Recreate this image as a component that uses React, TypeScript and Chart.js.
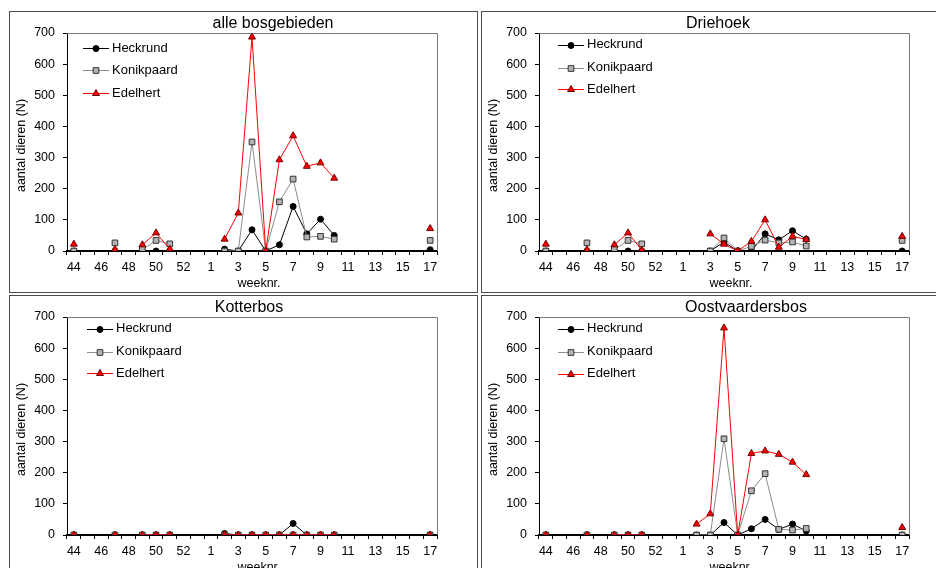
import React, { useEffect, useRef } from 'react';
import { Chart, registerables } from 'chart.js';
import { drawPoint } from 'chart.js/helpers';

Chart.register(...registerables);

const N = null;

// week numbers 44..53 (2004) and 1..17 (2005)
const WEEKS = ['44','45','46','47','48','49','50','51','52','53','1','2','3','4','5','6','7','8','9','10','11','12','13','14','15','16','17'];

const SERIES_NAMES = ['Heckrund', 'Konikpaard', 'Edelhert'];
const Y_MIN = 0;
const Y_MAX = 700;
const Y_STEP = 100;

// alle bosgebieden
const ALLE_HECK  = [0,N,N,0,N,0,0,0,N,N, N,6,0,68,0,20,143,55,102,50, N,N,N,N,N,N,4];
const ALLE_KONIK = [0,N,N,26,N,5,34,23,N,N, N,0,0,350,0,158,231,45,47,38, N,N,N,N,N,N,34];
const ALLE_EDEL  = [22,N,N,5,N,20,58,6,N,N, N,38,122,687,0,293,370,272,283,234, N,N,N,N,N,N,72];

// Driehoek
const DRIE_HECK  = [0,N,N,0,N,0,0,0,N,N, N,N,0,29,0,0,55,36,65,38, N,N,N,N,N,N,0];
const DRIE_KONIK = [0,N,N,26,N,5,34,23,N,N, N,N,0,42,0,15,35,26,29,16, N,N,N,N,N,N,34];
const DRIE_EDEL  = [22,N,N,4,N,20,58,3,N,N, N,N,55,22,0,31,100,12,47,37, N,N,N,N,N,N,47];

// Kotterbos
const KOT_HECK  = [0,N,N,0,N,0,0,0,N,N, N,5,0,0,0,0,37,0,0,0, N,N,N,N,N,N,0];
const KOT_KONIK = [0,N,N,0,N,0,0,0,N,N, N,0,0,0,0,0,0,0,0,0, N,N,N,N,N,N,0];
const KOT_EDEL  = [0,N,N,0,N,0,0,0,N,N, N,0,0,0,0,0,0,0,0,0, N,N,N,N,N,N,0];

// Oostvaardersbos
const OOST_HECK  = [0,N,N,0,N,0,0,0,N,N, N,0,0,40,0,20,50,18,35,13, N,N,N,N,N,N,0];
const OOST_KONIK = [0,N,N,0,N,0,0,0,N,N, N,0,0,309,0,142,197,18,16,21, N,N,N,N,N,N,0];
const OOST_EDEL  = [0,N,N,0,N,0,0,0,N,N, N,35,68,665,0,262,270,259,234,194, N,N,N,N,N,N,24];

const FONT = '"Liberation Sans", Arial, Helvetica, sans-serif';
const CW = 467;
const CH = 280;

const STYLES = [
  { line: '#000000', pointStyle: 'circle', radius: 3, bg: '#000000', border: '#000000', order: 3 },
  { line: '#8c8c8c', pointStyle: 'rect', radius: 4, bg: '#b4b4b4', border: '#333333', order: 2 },
  { line: '#ff0000', pointStyle: 'triangle', radius: 4, bg: '#ff0000', border: '#700000', order: 1 },
];

type PanelCfg = {
  title: string;
  series: (number | null)[][];
  left: number;
  top: number;
  titleX: number;
  legendX: number;
  legendRows: number[];
};

const PANELS: PanelCfg[] = [
  { title: 'alle bosgebieden', series: [ALLE_HECK, ALLE_KONIK, ALLE_EDEL], left: 9, top: 11, titleX: 263, legendX: 73, legendRows: [36.3, 58.3, 81.3] },
  { title: 'Driehoek', series: [DRIE_HECK, DRIE_KONIK, DRIE_EDEL], left: 481, top: 11, titleX: 236, legendX: 76, legendRows: [32.5, 55.6, 77.4] },
  { title: 'Kotterbos', series: [KOT_HECK, KOT_KONIK, KOT_EDEL], left: 9, top: 295, titleX: 239, legendX: 77, legendRows: [32.5, 55.5, 77.4] },
  { title: 'Oostvaardersbos', series: [OOST_HECK, OOST_KONIK, OOST_EDEL], left: 481, top: 295, titleX: 264, legendX: 76, legendRows: [32.8, 55.7, 77.5] },
];

function makeDecor(p: PanelCfg) {
  return {
    id: 'decor',
    beforeDatasetsDraw(chart: any) {
      const { ctx, chartArea: a } = chart;
      ctx.save();
      ctx.strokeStyle = '#7a7a7a';
      ctx.lineWidth = 1;
      ctx.beginPath();
      ctx.moveTo(a.left, a.top + 0.5);
      ctx.lineTo(a.right + 0.5, a.top + 0.5);
      ctx.lineTo(a.right + 0.5, a.bottom);
      ctx.stroke();
      ctx.restore();
    },
    afterDraw(chart: any) {
      const { ctx, chartArea: a } = chart;
      ctx.save();
      ctx.fillStyle = '#000';
      // panel title
      ctx.font = `16px ${FONT}`;
      ctx.textAlign = 'center';
      ctx.textBaseline = 'alphabetic';
      ctx.fillText(p.title, p.titleX, 16.3);
      // x title
      ctx.font = `12.5px ${FONT}`;
      ctx.fillText('weeknr.', 249, 275);
      // y title
      ctx.save();
      ctx.translate(12, (a.top + a.bottom) / 2 + 3.5);
      ctx.rotate(-Math.PI / 2);
      ctx.textBaseline = 'middle';
      ctx.fillText('aantal dieren (N)', 0, 0);
      ctx.restore();
      // legend
      ctx.font = `13px ${FONT}`;
      ctx.textAlign = 'left';
      ctx.textBaseline = 'middle';
      SERIES_NAMES.forEach((name, i) => {
        const s = STYLES[i];
        const y = p.legendRows[i];
        const x0 = p.legendX;
        const x1 = x0 + 26;
        ctx.strokeStyle = s.line;
        ctx.lineWidth = 1;
        ctx.beginPath();
        ctx.moveTo(x0, Math.round(y) + 0.5);
        ctx.lineTo(x1, Math.round(y) + 0.5);
        ctx.stroke();
        ctx.fillStyle = s.bg;
        ctx.strokeStyle = s.border;
        drawPoint(ctx, { pointStyle: s.pointStyle as any, radius: s.radius, rotation: 0, borderWidth: 1 } as any, (x0 + x1) / 2, Math.round(y) + 0.5);
        ctx.fillStyle = '#000';
        ctx.fillText(name, x1 + 3, y);
      });
      ctx.restore();
    },
  };
}

function PanelChart({ p }: { p: PanelCfg }) {
  const ref = useRef<HTMLCanvasElement | null>(null);
  useEffect(() => {
    if (!ref.current) return;
    const chart = new Chart(ref.current, {
      type: 'line',
      data: {
        labels: WEEKS,
        datasets: p.series.map((d, i) => ({
          label: SERIES_NAMES[i],
          data: d,
          order: STYLES[i].order,
          borderColor: STYLES[i].line,
          borderWidth: 1,
          backgroundColor: STYLES[i].bg,
          pointStyle: STYLES[i].pointStyle as any,
          pointRadius: STYLES[i].radius,
          pointBackgroundColor: STYLES[i].bg,
          pointBorderColor: STYLES[i].border,
          pointBorderWidth: 1,
          spanGaps: false,
          tension: 0,
          fill: false,
        })),
      },
      options: {
        responsive: false,
        animation: false,
        devicePixelRatio: 1,
        events: [],
        layout: { padding: { top: 21, right: 40, bottom: 0, left: 0 } },
        plugins: {
          legend: { display: false },
          title: { display: false },
          tooltip: { enabled: false },
        },
        scales: {
          x: {
            type: 'category',
            offset: true,
            grid: { display: true, drawOnChartArea: false, drawTicks: true, tickLength: 4, color: '#000', offset: true },
            border: { display: true, color: '#000', width: 2 },
            ticks: {
              autoSkip: false,
              maxRotation: 0,
              minRotation: 0,
              padding: 5,
              color: '#000',
              font: { family: FONT, size: 12.5 },
              callback: (_v: any, idx: number) => (idx % 2 === 0 ? WEEKS[idx] : ''),
            },
            afterFit: (scale: any) => { scale.height = 41; },
          },
          y: {
            min: Y_MIN,
            max: Y_MAX,
            grid: { display: true, drawOnChartArea: false, drawTicks: true, tickLength: 4, color: '#000' },
            border: { display: true, color: '#000', width: 1 },
            ticks: {
              stepSize: Y_STEP,
              padding: 8,
              color: '#000',
              font: { family: FONT, size: 12.5 },
            },
            afterFit: (scale: any) => { scale.width = 57; },
          },
        },
      },
      plugins: [makeDecor(p)],
    });
    return () => chart.destroy();
  }, [p]);
  return <canvas ref={ref} width={CW} height={CH} style={{ display: 'block', width: CW, height: CH }} />;
}

export default function App() {
  return (
    <div style={{ position: 'fixed', left: 0, top: 0, width: 936, height: 568, overflow: 'hidden', background: '#fff' }}>
      {PANELS.map((p) => (
        <div
          key={p.title}
          style={{ position: 'absolute', left: p.left, top: p.top, width: CW, height: CH, border: '1px solid #4d4d4d', background: '#fff' }}
        >
          <PanelChart p={p} />
        </div>
      ))}
    </div>
  );
}
